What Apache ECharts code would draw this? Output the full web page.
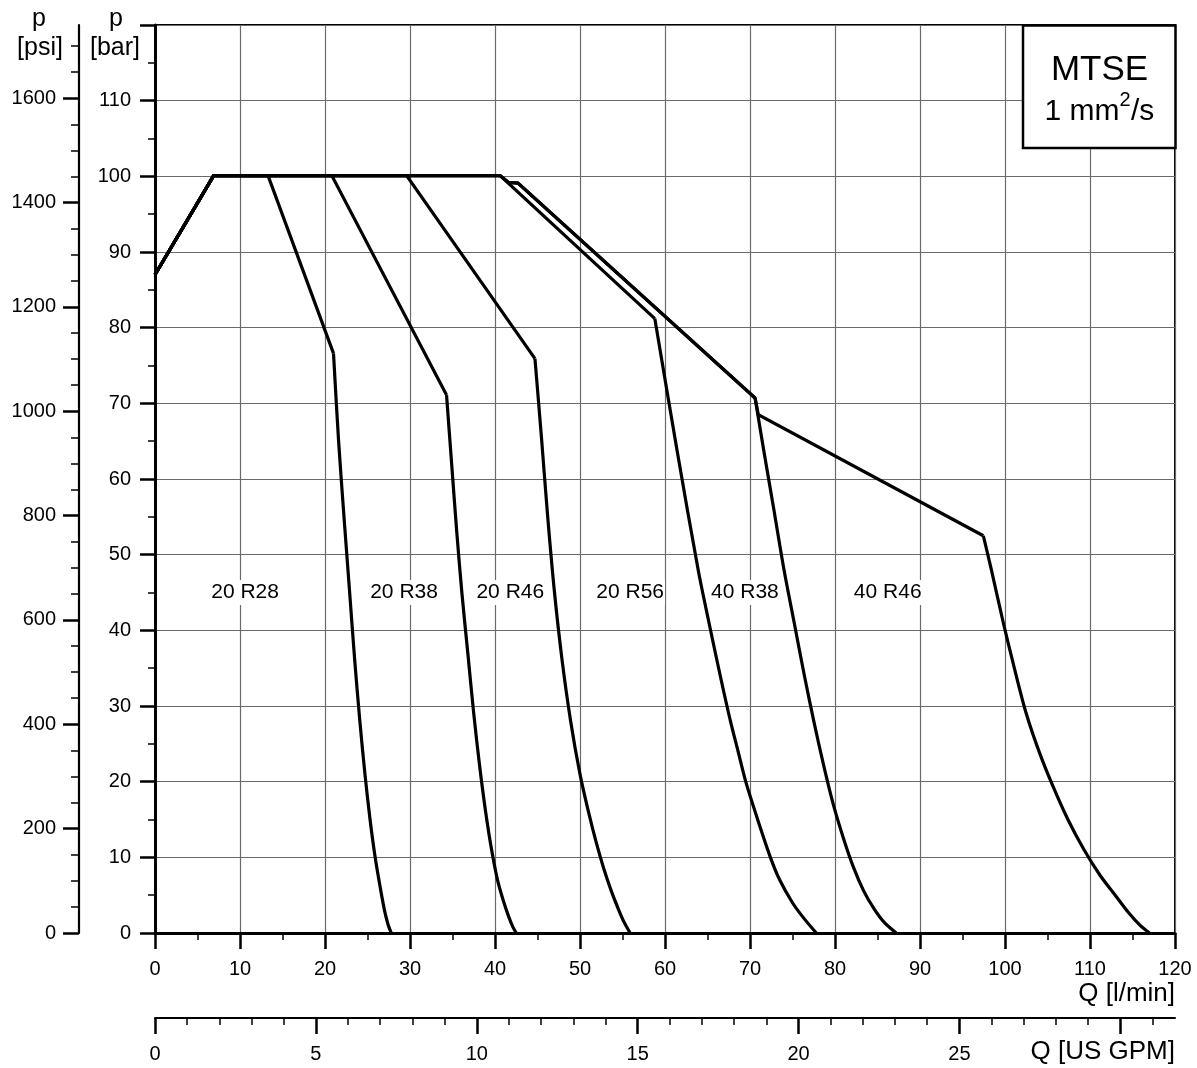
<!DOCTYPE html>
<html>
<head>
<meta charset="utf-8">
<script src="https://cdn.jsdelivr.net/npm/echarts@6/dist/echarts.min.js"></script>
<style>
html,body{margin:0;padding:0;background:#fff;}
#chart{width:1197px;height:1068px;}
</style>
</head>
<body>
<div id="chart"></div>
<script>
const FONT = '"Liberation Sans", Arial, Helvetica, sans-serif';
const PSI_PER_BAR = 14.5038;
const LPM_PER_GPM = 3.785411784;

// Axis ranges and tick labels
const qMax = 120;           // l/min
const pMax = 120;           // bar
const barTickLabels = [0, 10, 20, 30, 40, 50, 60, 70, 80, 90, 100, 110];
const psiMajorTicks = [0, 200, 400, 600, 800, 1000, 1200, 1400, 1600];
const psiMinorTicks = [50,100,150,250,300,350,450,500,550,650,700,750,850,900,950,1050,1100,1150,1250,1300,1350,1450,1500,1550,1650,1700];
const gpmMajorTicks = [0, 5, 10, 15, 20, 25, 30];
const gpmMinorTicks = [1,2,3,4,6,7,8,9,11,12,13,14,16,17,18,19,21,22,23,24,26,27,28,29,31];
const gpmTickLabels = [0, 5, 10, 15, 20, 25];

// Curves: [Q l/min, p bar]
const curve20R28 = [[0,87.0],[6.9,100.1],[13.3,100.1],[21.0,76.6],[21.6,65],[22.3,54],[22.9,45],[23.5,36],[24.1,28],[24.7,21],[25.3,15],[25.9,10],[26.5,6],[27.0,3],[27.4,1.2],[27.8,0]];
const curve20R38 = [[0,87.0],[6.9,100.1],[20.8,100.1],[34.3,71.1],[34.9,62],[35.5,53],[36.1,45],[36.8,37],[37.5,29],[38.2,22],[38.9,16],[39.6,11],[40.3,7],[41.0,4.2],[41.6,2.2],[42.1,0.8],[42.5,0]];
const curve20R46 = [[0,87.0],[6.9,100.1],[29.6,100.1],[44.7,75.9],[45.5,65],[46.2,55],[47.0,45],[47.9,36],[48.9,28],[50.0,21],[51.0,16],[51.9,12],[52.8,8.5],[53.7,5.5],[54.5,3.2],[55.2,1.4],[55.9,0]];
const curve20R56 = [[0,87.0],[6.9,100.1],[40.6,100.1],[58.8,81.2],[61.4,63.9],[63.9,48],[65.1,41.4],[66.5,34],[67.7,28],[68.6,24],[69.5,20],[70.9,15],[72.4,10],[73.5,7],[75.0,4],[76.3,2],[77.8,0]];
const curve40R38 = [[0,87.0],[6.9,100.1],[40.6,100.1],[41.6,99.2],[42.7,99.1],[70.6,70.7],[71.6,63.9],[72.8,56],[74.0,48],[75.2,41],[76.4,34],[77.6,27.5],[78.7,22],[79.8,17],[81.0,12.5],[82.2,8.6],[83.4,5.5],[84.6,3.2],[85.8,1.4],[87.2,0]];
const curve40R46 = [[0,87.0],[6.9,100.1],[40.6,100.1],[41.6,99.2],[42.7,99.1],[70.6,70.7],[70.98,68.5],[97.45,52.5],[98.4,48],[99.8,41],[101.1,35],[102.5,29],[104.0,24],[105.6,19.5],[107.4,15],[109.3,11],[111.2,7.6],[113.1,4.8],[114.6,2.6],[115.9,1.0],[117.0,0]];

const curves = [curve20R28, curve20R38, curve20R46, curve20R56, curve40R38, curve40R46];
// index of the last corner point; the curved tail starts there
const tailStart = [3, 3, 3, 3, 5, 7];
const curveLabels = [[10.6,45,'20 R28'],[29.3,45,'20 R38'],[41.8,45,'20 R46'],[55.9,45,'20 R56'],[69.4,45,'40 R38'],[86.2,45,'40 R46']];

const chart = echarts.init(document.getElementById('chart'), null, {renderer:'canvas'});

const lineStyle = {color:'#000', width:3.2, join:'miter'};
const lineSeries = [];
curves.forEach((c, i) => {
  lineSeries.push({type:'line', data:c.slice(0, tailStart[i] + 1), xAxisIndex:0, yAxisIndex:0,
    symbol:'none', smooth:false, lineStyle:lineStyle, z:3, silent:true});
  lineSeries.push({type:'line', data:c.slice(tailStart[i]), xAxisIndex:0, yAxisIndex:0,
    symbol:'none', smooth:0.3, lineStyle:lineStyle, z:3, silent:true});
});

const txt = (text, x, y, size, align) => ({type:'text', z:11, silent:true,
  style:{text:text, x:x, y:y, textAlign:align || 'center', textVerticalAlign:'middle', font:size + 'px ' + FONT, fill:'#000'}});

const option = {
  animation:false,
  backgroundColor:'#fff',
  grid:{left:155, right:22, top:25, bottom:135, show:true, borderColor:'#000', borderWidth:2, backgroundColor:'transparent'},
  xAxis:[
    {type:'value', min:0, max:qMax, interval:10, position:'bottom',
     axisLine:{show:true, onZero:false, lineStyle:{color:'#000', width:3}},
     axisTick:{show:true, length:16, lineStyle:{color:'#000', width:2.5}},
     minorTick:{show:true, splitNumber:2, length:7, lineStyle:{color:'#000', width:1.5}},
     splitLine:{show:true, lineStyle:{color:'#6a6a6a', width:1.2}},
     axisLabel:{color:'#000', fontSize:20, fontFamily:FONT, margin:26, formatter:v=>String(v)}},
    {type:'value', min:0, max:qMax/LPM_PER_GPM, position:'bottom', offset:85,
     axisLine:{show:true, onZero:false, lineStyle:{color:'#000', width:2}},
     axisTick:{show:true, length:16, customValues:gpmMajorTicks, lineStyle:{color:'#000', width:2.5}},
     splitLine:{show:false},
     axisLabel:{show:true, customValues:gpmTickLabels, color:'#000', fontSize:20, fontFamily:FONT, margin:26, formatter:v=>String(v)}},
    {type:'value', min:0, max:qMax/LPM_PER_GPM, position:'bottom', offset:85,
     axisLine:{show:false, onZero:false},
     axisTick:{show:true, length:7, customValues:gpmMinorTicks, lineStyle:{color:'#000', width:1.5}},
     splitLine:{show:false}, axisLabel:{show:false}}
  ],
  yAxis:[
    {type:'value', min:0, max:pMax, interval:10, position:'left',
     axisLine:{show:true, onZero:false, lineStyle:{color:'#000', width:3}},
     axisTick:{show:true, length:15, lineStyle:{color:'#000', width:2.5}},
     minorTick:{show:true, splitNumber:2, length:7, lineStyle:{color:'#000', width:1.5}},
     splitLine:{show:true, lineStyle:{color:'#6a6a6a', width:1.2}},
     axisLabel:{show:true, customValues:barTickLabels, color:'#000', fontSize:20, fontFamily:FONT, margin:24, formatter:v=>String(v)}},
    {type:'value', min:0, max:pMax*PSI_PER_BAR, position:'left', offset:76,
     axisLine:{show:true, onZero:false, lineStyle:{color:'#000', width:2.2}},
     axisTick:{show:true, length:16, customValues:psiMajorTicks, lineStyle:{color:'#000', width:2.5}},
     splitLine:{show:false},
     axisLabel:{show:true, customValues:psiMajorTicks, color:'#000', fontSize:20, fontFamily:FONT, margin:23, formatter:v=>String(v)}},
    {type:'value', min:0, max:pMax*PSI_PER_BAR, position:'left', offset:76,
     axisLine:{show:false, onZero:false},
     axisTick:{show:true, length:8, customValues:psiMinorTicks, lineStyle:{color:'#000', width:1.5}},
     splitLine:{show:false}, axisLabel:{show:false}}
  ],
  series: lineSeries.concat([{
    type:'scatter', xAxisIndex:0, yAxisIndex:0, silent:true, z:4,
    data: curveLabels.map(d => ({value:[d[0], d[1]], name:d[2]})),
    symbol:'circle', symbolSize:2, itemStyle:{color:'#fff', opacity:1},
    label:{show:true, position:'inside', formatter:'{b}', color:'#000', opacity:1, fontSize:21, fontFamily:FONT,
           textBorderWidth:0, textBorderColor:'#fff', textShadowBlur:0,
           backgroundColor:'#fff', padding:[2,1]},
    emphasis:{disabled:true}
  }]),
  graphic:[
    txt('p', 39, 19, 25), txt('[psi]', 40, 48, 25),
    txt('p', 116, 19, 25), txt('[bar]', 115, 48, 25),
    txt('Q [l/min]', 1175, 994, 26, 'right'),
    txt('Q [US GPM]', 1175, 1052, 26, 'right'),
    {type:'rect', z:10, silent:true, shape:{x:1023, y:25.5, width:152.5, height:122.5}, style:{fill:'#fff', stroke:'#000', lineWidth:2.5}},
    txt('MTSE', 1099.5, 70, 35),
    txt('1 mm', 1044.5, 112, 30, 'left'),
    txt('2', 1119.5, 100, 20, 'left'),
    txt('/s', 1131, 112, 30, 'left')
  ]
};
chart.setOption(option);
</script>
</body>
</html>
